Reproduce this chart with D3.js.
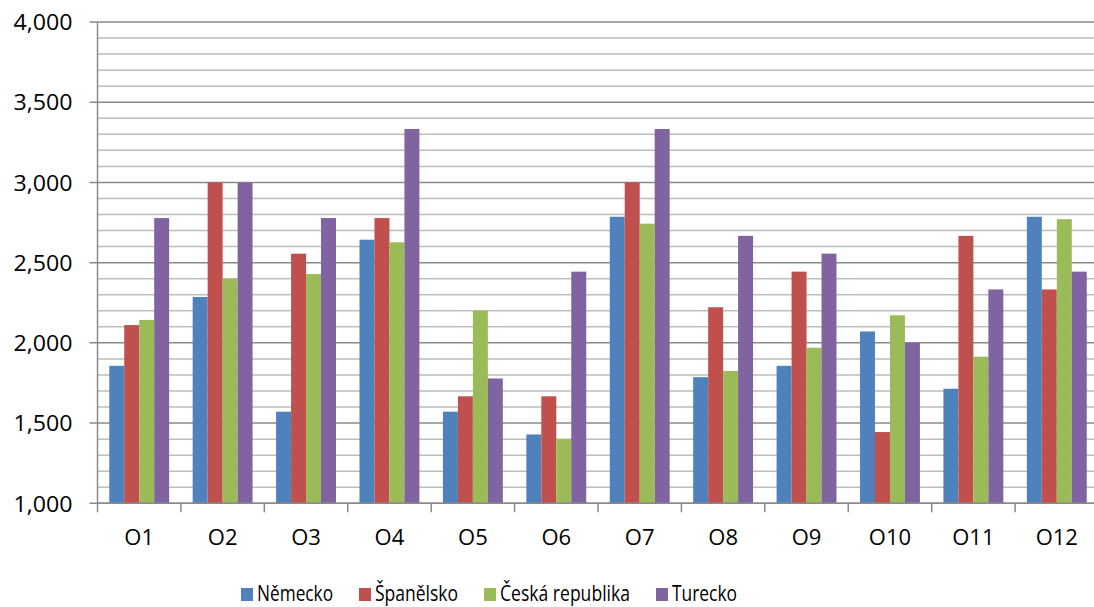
<!DOCTYPE html>
<html>
<head>
<meta charset="utf-8">
<script src="https://cdn.jsdelivr.net/npm/d3@7"></script>
<style>
  html, body { margin: 0; padding: 0; background: #fff; }
  svg { display: block; }
  text { font-family: "Open Sans", "Noto Sans", sans-serif; fill: #000; }
</style>
</head>
<body>
<svg id="chart" width="1094" height="607"></svg>
<script>
// Categories and series
const categories = ["O1", "O2", "O3", "O4", "O5", "O6", "O7", "O8", "O9", "O10", "O11", "O12"];
const seriesNames = ["Německo", "Španělsko", "Česká republika", "Turecko"];
const seriesColors = ["#4F81BD", "#C0504D", "#9BBB59", "#8064A2"];

const nemecko   = [1857, 2286, 1571, 2643, 1571, 1429, 2786, 1786, 1857, 2071, 1714, 2786];
const spanelsko = [2111, 3000, 2556, 2778, 1667, 1667, 3000, 2222, 2444, 1444, 2667, 2333];
const ceska     = [2143, 2400, 2429, 2627, 2200, 1400, 2743, 1825, 1970, 2172, 1914, 2771];
const turecko   = [2778, 3000, 2778, 3333, 1778, 2444, 3333, 2667, 2556, 2000, 2333, 2444];

const seriesValues = [nemecko, spanelsko, ceska, turecko];

const yMin = 1000, yMax = 4000;
const majorTicks = [1000, 1500, 2000, 2500, 3000, 3500, 4000];
const minorTicks = d3.range(1000, 4001, 100);

const svg = d3.select("#chart");
const plot = { left: 97.5, right: 1098.5, top: 22, bottom: 503.3 };

const x = d3.scaleBand().domain(categories).range([plot.left, plot.right]).padding(0);
const groupFrac = 4 / 5.57;
const xInner = d3.scaleBand().domain(d3.range(4))
  .range([0, x.bandwidth() * groupFrac]).padding(0);
const y = d3.scaleLinear().domain([yMin, yMax]).range([plot.bottom, plot.top]);

// Minor gridlines
svg.append("g").selectAll("line")
  .data(minorTicks.filter(v => v % 500 !== 0))
  .join("line")
  .attr("x1", plot.left).attr("x2", plot.right)
  .attr("y1", d => y(d)).attr("y2", d => y(d))
  .attr("stroke", "#bdbdbd").attr("stroke-width", 1.5);

// Major gridlines
svg.append("g").selectAll("line")
  .data(majorTicks)
  .join("line")
  .attr("x1", plot.left - 8).attr("x2", plot.right)
  .attr("y1", d => y(d)).attr("y2", d => y(d))
  .attr("stroke", "#8a8a8a").attr("stroke-width", 1.5);

// Bars
const groups = svg.append("g").selectAll("g")
  .data(categories)
  .join("g")
  .attr("transform", c => `translate(${x(c) + (x.bandwidth() - x.bandwidth() * groupFrac) / 2},0)`);

groups.selectAll("rect")
  .data((c, i) => seriesValues.map((vals, s) => ({ s, v: vals[i] })))
  .join("rect")
  .attr("x", d => xInner(d.s))
  .attr("width", xInner.bandwidth())
  .attr("y", d => y(d.v))
  .attr("height", d => y(yMin) - y(d.v))
  .attr("fill", d => seriesColors[d.s]);

// Y axis
const yAxis = svg.append("g")
  .attr("transform", `translate(${plot.left},0)`)
  .call(d3.axisLeft(y).tickValues(majorTicks).tickFormat(d3.format(",")).tickSize(0).tickPadding(25));
yAxis.select(".domain").remove();
yAxis.selectAll("text")
  .style("font-size", "22px")
  .style("font-family", "'Open Sans', sans-serif")
  .attr("dy", "0.35em")
  .attr("textLength", 59).attr("lengthAdjust", "spacingAndGlyphs");
svg.append("line")
  .attr("x1", plot.left).attr("x2", plot.left)
  .attr("y1", plot.top).attr("y2", plot.bottom + 9)
  .attr("stroke", "#8a8a8a").attr("stroke-width", 1.5);

// X axis
svg.append("line")
  .attr("x1", plot.left).attr("x2", plot.right)
  .attr("y1", plot.bottom).attr("y2", plot.bottom)
  .attr("stroke", "#8a8a8a").attr("stroke-width", 1.5);
const xAxis = svg.append("g")
  .attr("transform", `translate(0,${plot.bottom})`)
  .call(d3.axisBottom(x).tickSize(0).tickPadding(0));
xAxis.select(".domain").remove();
xAxis.selectAll("text")
  .style("font-size", "22px")
  .style("font-family", "'Open Sans', sans-serif")
  .attr("y", 42).attr("dy", null);
svg.append("g").selectAll("line")
  .data(categories.slice(1))
  .join("line")
  .attr("x1", c => x(c)).attr("x2", c => x(c))
  .attr("y1", plot.bottom).attr("y2", plot.bottom + 9)
  .attr("stroke", "#8a8a8a").attr("stroke-width", 1.5);

// Legend
const legendX = [241, 359, 484, 656];
const legendW = [76, 83, 130, 65];
const legend = svg.append("g").selectAll("g")
  .data(seriesNames)
  .join("g")
  .attr("transform", (d, i) => `translate(${legendX[i]},588)`);
legend.append("rect")
  .attr("width", 12).attr("height", 13)
  .attr("fill", (d, i) => seriesColors[i]);
legend.append("text")
  .attr("x", 16).attr("y", 13)
  .style("font-size", "21px")
  .attr("textLength", (d, i) => legendW[i])
  .attr("lengthAdjust", "spacingAndGlyphs")
  .text(d => d);
</script>
</body>
</html>
